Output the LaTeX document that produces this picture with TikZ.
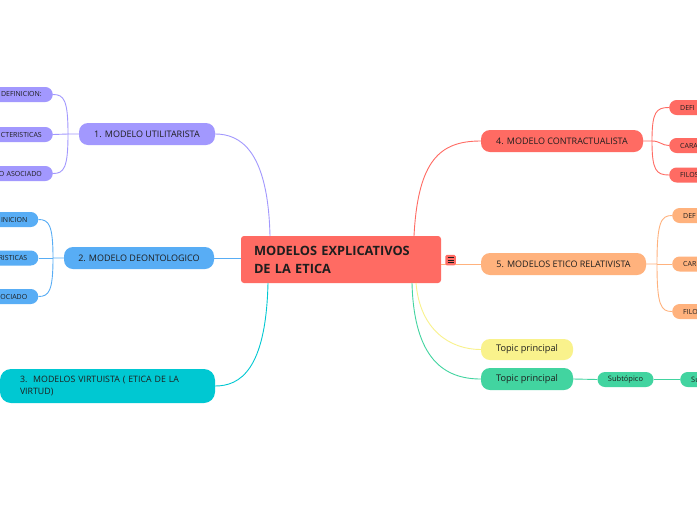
\documentclass[tikz,border=0pt]{standalone}
\usepackage{fontspec}
\setmainfont{Open Sans}
\usetikzlibrary{calc}
\definecolor{cpur}{RGB}{162,152,254}
\definecolor{cblu}{RGB}{88,173,245}
\definecolor{ctea}{RGB}{0,200,210}
\definecolor{cred}{RGB}{255,107,99}
\definecolor{corg}{RGB}{255,178,125}
\definecolor{cyel}{RGB}{249,242,140}
\definecolor{cgrn}{RGB}{66,212,160}
\definecolor{ctxt}{RGB}{30,30,30}
\begin{document}
\begin{tikzpicture}[x=1pt,y=-1pt,
 every node/.style={inner sep=0pt, text=ctxt},
 main/.style={rounded corners=9pt, minimum height=22pt, font=\fontsize{9}{11}\selectfont},
 topic/.style={rounded corners=9pt, minimum height=22pt, minimum width=92pt, font=\fontsize{9.2}{11}\selectfont},
 sub/.style={rounded corners=7.5pt, minimum height=15pt, font=\fontsize{7}{8}\selectfont},
 lcut/.style={sub, anchor=east, text width=70pt, align=right, inner xsep=11pt},
 rcut/.style={sub, anchor=west, text width=70pt, align=left, inner xsep=11pt},
 link/.style={line width=0.9pt},
]
\useasboundingbox (0,0) rectangle (697,520);
\fill[white] (0,0) rectangle (697,520);

% center
\node[fill=cred, rounded corners=3pt, minimum width=200pt, minimum height=47pt,
      text width=174pt, align=left, inner xsep=13pt,
      font=\bfseries\fontsize{12.8}{18}\selectfont] (c) at (341,259.5) {MODELOS EXPLICATIVOS\\DE LA ETICA};

% main branches
\node[main, fill=cpur, minimum width=136pt] (m1) at (147,134) {1. MODELO UTILITARISTA};
\node[main, fill=cblu, minimum width=150pt] (m2) at (139,258) {2. MODELO DEONTOLOGICO};
\node[main, fill=ctea, rounded corners=11pt, minimum height=34pt, text width=175pt,
      inner xsep=20pt, align=left, font=\fontsize{8.8}{12}\selectfont] (m3) at (107.5,386)
      {3.\ \ MODELOS VIRTUISTA ( ETICA DE LA\\VIRTUD)};
\node[main, fill=cred, minimum width=162pt] (m4) at (562,141) {4. MODELO CONTRACTUALISTA};
\node[main, fill=corg, minimum width=165pt] (m5) at (563.5,264) {5. MODELOS ETICO RELATIVISTA};
\node[topic, fill=cyel, minimum height=21pt] (t1) at (527,349.5) {Topic principal};
\node[topic, fill=cgrn] (t2) at (527,379) {Topic principal};
\node[sub, fill=cgrn, minimum width=56pt, font=\fontsize{7.5}{8}\selectfont] (s1) at (625.5,379.5) {Subtópico};
\node[rcut, fill=cgrn, font=\fontsize{7.5}{8}\selectfont] (s2) at (680,379.5) {Su};

% left subs
\node[lcut, fill=cpur] (a1) at (53,94.5) {DEFINICION:};
\node[lcut, fill=cpur] (a2) at (53,134.5) {CTERISTICAS};
\node[lcut, fill=cpur] (a3) at (53,173.5) {O ASOCIADO};
\node[lcut, fill=cblu] (b1) at (38.5,219.5) {INICION};
\node[lcut, fill=cblu] (b2) at (38.5,258) {RISTICAS};
\node[lcut, fill=cblu] (b3) at (38.5,296.5) {OCIADO};

% right subs
\node[rcut, fill=cred] (d1) at (669,107.5) {DEFI};
\node[rcut, fill=cred] (d2) at (669,145.5) {CARA};
\node[rcut, fill=cred] (d3) at (669,175) {FILOS};
\node[rcut, fill=corg] (e1) at (672,215.5) {DEF};
\node[rcut, fill=corg] (e2) at (672,264) {CAR};
\node[rcut, fill=corg] (e3) at (672,311.5) {FILO};

% coordinates on the center box
\coordinate (cpu) at (270,236);
\coordinate (cpd) at (268,283);
\coordinate (cru) at (414,236);
\coordinate (cry) at (416,283);
\coordinate (crg) at (412,283);

% center connectors
\draw[link, cpur] (cpu) .. controls (268,150) and (240,134) .. (m1.east);
\draw[link, cblu] (m2.east) -- (m2.east -| c.west);
\draw[link, ctea] (cpd) .. controls (266,370) and (240,386) .. (m3.east);
\draw[link, cred] (cru) .. controls (418,160) and (440,141) .. (m4.west);
\draw[link, corg] (c.east |- m5.west) -- (m5.west);
\draw[link, cyel] (cry) .. controls (420,330) and (450,349.5) .. (t1.west);
\draw[link, cgrn] (crg) .. controls (414,360) and (445,379) .. (t2.west);
\draw[link, cgrn] (t2.east) -- (s1.west);
\draw[link, cgrn] (s1.east) -- (s2.west);

% sub connectors
\coordinate (bp1) at (68,134);
\draw[link, cpur] (m1.west) -- (bp1) .. controls (68,100) and (64,94.5) .. (a1.east);
\draw[link, cpur] (bp1) -- (a2.east);
\draw[link, cpur] (bp1) .. controls (68,168) and (64,173.5) .. (a3.east);
\coordinate (bp2) at (53,258);
\draw[link, cblu] (m2.west) -- (bp2) .. controls (53,225) and (49,219.5) .. (b1.east);
\draw[link, cblu] (bp2) -- (b2.east);
\draw[link, cblu] (bp2) .. controls (53,291) and (49,296.5) .. (b3.east);
\coordinate (bp4) at (652,141);
\draw[link, cred] (m4.east) -- (bp4) .. controls (652,112) and (656,107.5) .. (d1.west);
\draw[link, cred] (bp4) .. controls (660,141) and (662,145.5) .. (d2.west);
\draw[link, cred] (bp4) .. controls (652,170) and (656,175) .. (d3.west);
\coordinate (bp5) at (657,264);
\draw[link, corg] (m5.east) -- (bp5) .. controls (657,222) and (661,215.5) .. (e1.west);
\draw[link, corg] (bp5) -- (e2.west);
\draw[link, corg] (bp5) .. controls (657,306) and (661,311.5) .. (e3.west);

% icon
\node[fill=cred, rounded corners=1.5pt, minimum size=10.5pt] (ic) at (450.5,260) {};
\draw[ctxt, line width=0.8pt] ($(ic.center)+(-3,-2.5)$) -- ($(ic.center)+(3,-2.5)$);
\draw[ctxt, line width=0.8pt] ($(ic.center)+(-3,0)$) -- ($(ic.center)+(3,0)$);
\draw[ctxt, line width=0.8pt] ($(ic.center)+(-3,2.5)$) -- ($(ic.center)+(3,2.5)$);
\end{tikzpicture}
\end{document}
